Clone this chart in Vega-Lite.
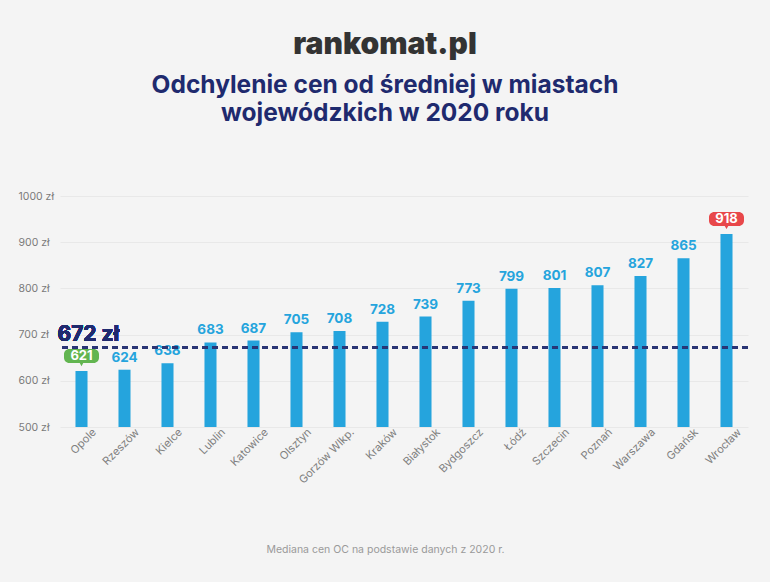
{
  "$schema": "https://vega.github.io/schema/vega-lite/v6.json",
  "width": 688,
  "height": 231,
  "autosize": "none",
  "padding": {"left": 60, "top": 196, "right": 22, "bottom": 155},
  "background": "#f4f4f4",
  "config": {
    "font": "Inter",
    "view": {"stroke": null}
  },
  "title": {
    "text": "rankomat.pl",
    "subtitle": ["Odchylenie cen od średniej w miastach", "wojewódzkich w 2020 roku"],
    "anchor": "middle",
    "frame": "group",
    "dx": -19,
    "font": "Inter",
    "fontSize": 30,
    "fontWeight": 900,
    "color": "#333333",
    "subtitleFont": "Inter",
    "subtitleFontSize": 24.5,
    "subtitleFontWeight": 700,
    "subtitleColor": "#1f2a6e",
    "subtitleLineHeight": 28,
    "subtitlePadding": 14,
    "offset": 66
  },
  "data": {
    "values": [
      {"city": "Opole", "value": 621},
      {"city": "Rzeszów", "value": 624},
      {"city": "Kielce", "value": 638},
      {"city": "Lublin", "value": 683},
      {"city": "Katowice", "value": 687},
      {"city": "Olsztyn", "value": 705},
      {"city": "Gorzów Wlkp.", "value": 708},
      {"city": "Kraków", "value": 728},
      {"city": "Białystok", "value": 739},
      {"city": "Bydgoszcz", "value": 773},
      {"city": "Łódź", "value": 799},
      {"city": "Szczecin", "value": 801},
      {"city": "Poznań", "value": 807},
      {"city": "Warszawa", "value": 827},
      {"city": "Gdańsk", "value": 865},
      {"city": "Wrocław", "value": 918}
    ]
  },
  "encoding": {
    "x": {
      "field": "city",
      "type": "nominal",
      "sort": null,
      "scale": {"paddingInner": 0.72, "paddingOuter": 0.36},
      "axis": {
        "title": "Mediana cen OC na podstawie danych z 2020 r.",
        "titleX": 325,
        "titleY": 122,
        "titleAlign": "center",
        "titleBaseline": "middle",
        "titleFontSize": 10.5,
        "titleFontWeight": "normal",
        "titleColor": "#9a9a9a",
        "labelAngle": -45,
        "labelAlign": "right",
        "labelBaseline": "top",
        "labelFontSize": 11,
        "labelColor": "#808080",
        "labelPadding": -1,
        "labelOffset": 9,
        "ticks": false,
        "domain": false
      }
    },
    "y": {
      "field": "value",
      "type": "quantitative",
      "scale": {"domain": [500, 1000], "zero": false, "nice": false},
      "axis": {
        "title": null,
        "values": [500, 600, 700, 800, 900, 1000],
        "labelExpr": "datum.value + ' zł'",
        "labelAlign": "left",
        "labelPadding": 42,
        "labelFontSize": 10.5,
        "labelColor": "#7a7a7a",
        "ticks": false,
        "domain": false,
        "gridColor": "#e8e8e8",
        "gridWidth": 1
      }
    }
  },
  "layer": [
    {
      "mark": {"type": "bar", "color": "#25a4dd"},
      "encoding": {"y2": {"datum": 500}}
    },
    {
      "transform": [{"filter": "datum.city !== 'Opole' && datum.city !== 'Wrocław'"}],
      "mark": {"type": "text", "dy": -8, "baseline": "alphabetic", "fontSize": 13.5, "fontWeight": 700, "color": "#25a4dd"},
      "encoding": {"text": {"field": "value", "type": "quantitative"}}
    },
    {
      "transform": [{"filter": "datum.city === 'Opole' || datum.city === 'Wrocław'"}],
      "mark": {
        "type": "point",
        "filled": true,
        "opacity": 1,
        "strokeWidth": 0,
        "size": 1225,
        "yOffset": -15,
        "shape": "M-0.7,-0.4 L0.7,-0.4 A0.3,0.3 0 0 1 1,-0.1 L1,0.1 A0.3,0.3 0 0 1 0.7,0.4 L0.1,0.4 L0,0.58 L-0.1,0.4 L-0.7,0.4 A0.3,0.3 0 0 1 -1,0.1 L-1,-0.1 A0.3,0.3 0 0 1 -0.7,-0.4 Z"
      },
      "encoding": {
        "color": {
          "field": "city",
          "type": "nominal",
          "scale": {"domain": ["Opole", "Wrocław"], "range": ["#62b550", "#e8474a"]},
          "legend": null
        }
      }
    },
    {
      "transform": [{"filter": "datum.city === 'Opole' || datum.city === 'Wrocław'"}],
      "mark": {"type": "text", "yOffset": -15, "baseline": "middle", "fontSize": 13, "fontWeight": 700, "color": "#ffffff"},
      "encoding": {"text": {"field": "value", "type": "quantitative"}}
    },
    {
      "mark": {"type": "rule", "color": "#2b3576", "strokeDash": [6, 4], "strokeWidth": 1.5},
      "encoding": {"y": {"datum": 672}, "x": null}
    },
    {
      "mark": {"type": "text", "align": "left", "baseline": "alphabetic", "dx": -24, "dy": -7, "fontSize": 21, "fontWeight": 700, "color": "#1f2a6e"},
      "encoding": {"x": {"datum": "Opole"}, "y": {"datum": 672}, "text": {"value": "672 zł"}}
    }
  ]
}
